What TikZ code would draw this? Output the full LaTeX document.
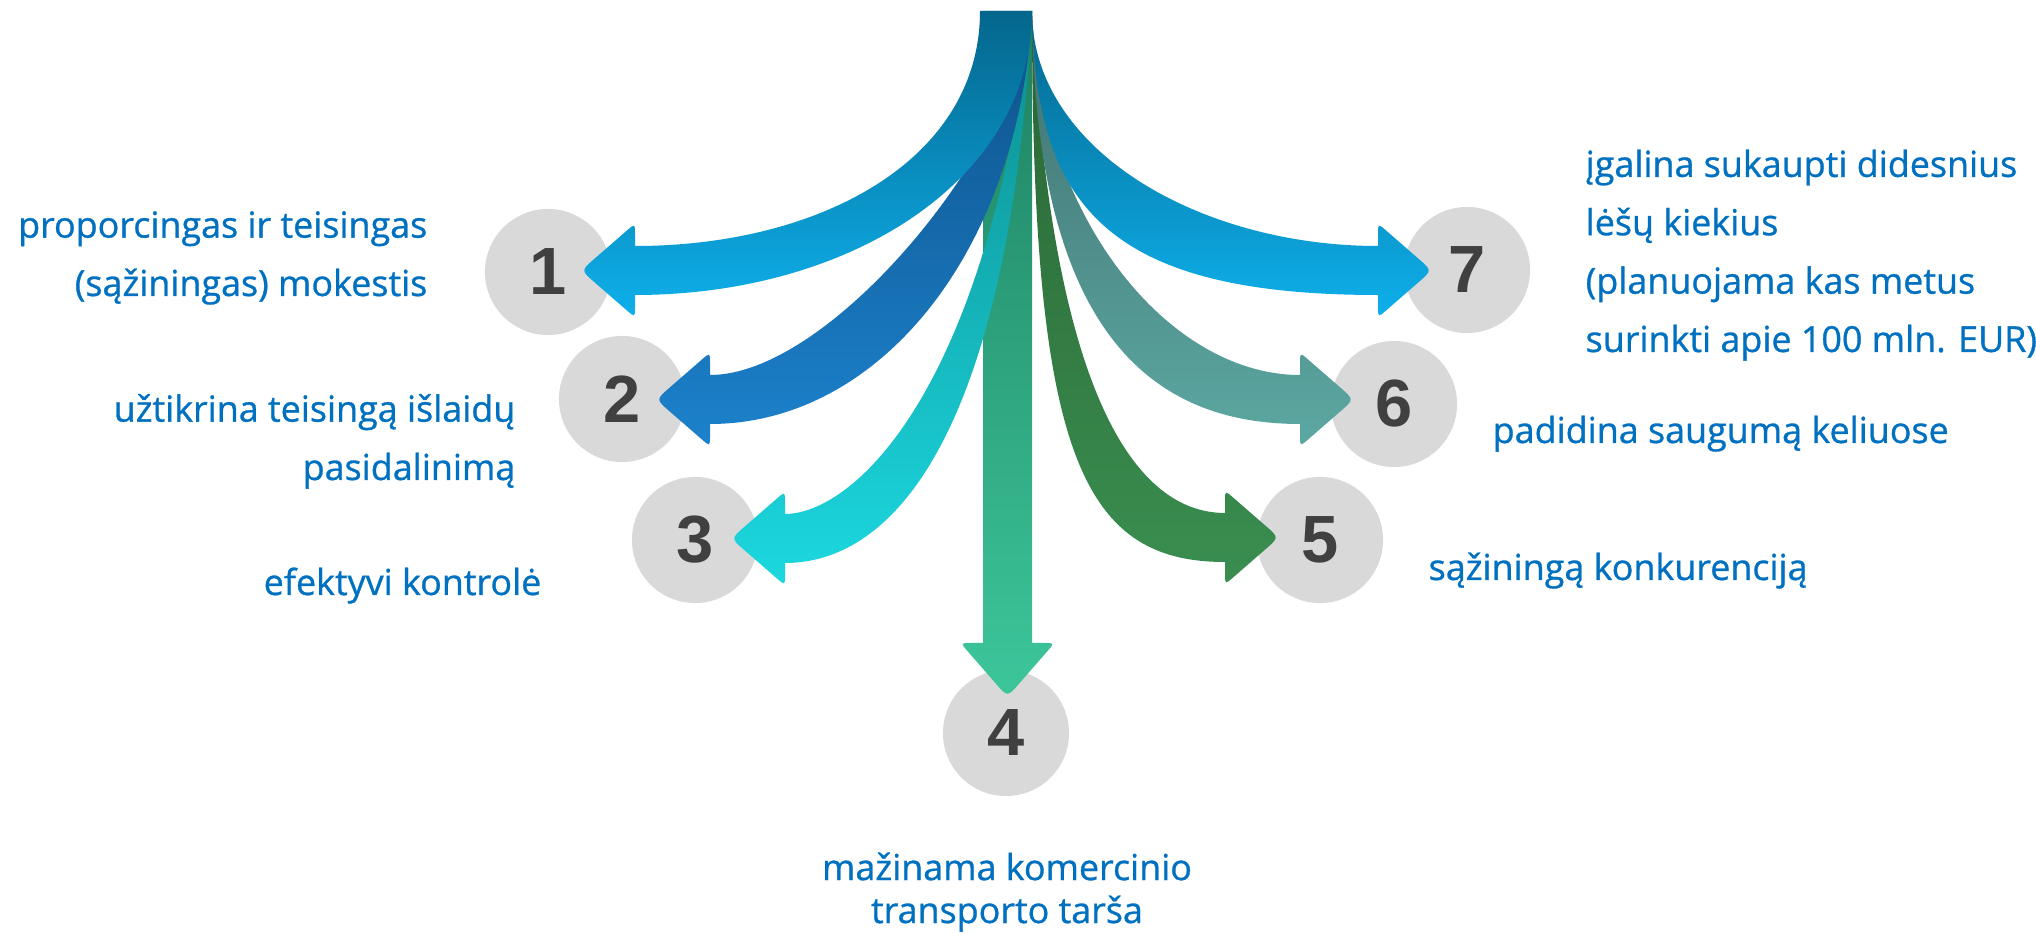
\documentclass[tikz,border=0pt]{standalone}
\usepackage{fontspec}
\setmainfont{Open Sans}
\newfontfamily\lblfont[FakeBold=0.8]{Open Sans}
\newfontfamily\numfont{Liberation Sans}
\usetikzlibrary{calc}
\definecolor{txtblue}{RGB}{0,112,192}
\definecolor{circgray}{RGB}{217,217,217}
\definecolor{numgray}{RGB}{64,64,64}
\definecolor{skytop}{RGB}{4,102,140}
\definecolor{skybot}{RGB}{14,176,236}
\definecolor{navytop}{RGB}{14,80,136}
\definecolor{navybot}{RGB}{28,130,204}
\definecolor{tealtop}{RGB}{12,140,142}
\definecolor{tealbot}{RGB}{28,216,224}
\definecolor{minttop}{RGB}{30,128,96}
\definecolor{mintbot}{RGB}{61,198,155}
\definecolor{greentop}{RGB}{42,100,52}
\definecolor{greenbot}{RGB}{58,142,80}
\definecolor{sagetop}{RGB}{64,112,112}
\definecolor{sagebot}{RGB}{92,168,162}
% rounded corner of an arrow head: previous point, corner, next point
\newcommand{\rnd}[3]{-- ($(#2)!3pt!(#1)$) .. controls (#2) .. ($(#2)!3pt!(#3)$)}
\newcommand{\rtip}[3]{-- ($(#2)!5pt!(#1)$) .. controls (#2) .. ($(#2)!5pt!(#3)$)}

\begin{document}
\begin{tikzpicture}[x=0.01cm,y=-0.01cm,
  num/.style={circle,fill=circgray,minimum size=1.26cm,inner sep=0pt,
    text=numgray,font=\numfont\bfseries\fontsize{19}{19}\selectfont},
  lbl/.style={inner sep=0pt,text=txtblue,font=\lblfont\fontsize{10.2}{16.6}\selectfont}]
  \fill[white] (0,0) rectangle (2036,934);
  \useasboundingbox (0,0) rectangle (2036,934);
  \coordinate (root) at (1032,11);

  % circles
  \node[num] (c1) at (548,272) {1};
  \node[num] (c2) at (622,399) {2};
  \node[num] (c3) at (695,540) {3};
  \node[num] (c4) at (1006,733) {4};
  \node[num] (c5) at (1320,540) {5};
  \node[num] (c6) at (1394,404) {6};
  \node[num] (c7) at (1467,270) {7};

  % arrow 4, straight down
  \shade[top color=minttop,bottom color=mintbot]
    (983,11) -- (983,643)
    \rnd{983,643}{960.5,643}{1007.5,697}
    \rtip{960.5,643}{1007.5,697}{1054.5,643}
    \rnd{1007.5,697}{1054.5,643}{1032,643}
    -- (1032,643) -- (root) -- cycle;
  % arrow 3
  \shade[top color=tealtop,bottom color=tealbot]
    (root) .. controls (985,400) and (850,514) .. (785,514)
    \rnd{785,514}{785,491.5}{731,538.5}
    \rtip{785,491.5}{731,538.5}{785,585.5}
    \rnd{731,538.5}{785,585.5}{785,563}
    -- (785,563) .. controls (900,563) and (1010,420) .. (root) -- cycle;
  % arrow 5
  \shade[top color=greentop,bottom color=greenbot]
    (root) .. controls (1050,380) and (1130,513) .. (1225,513)
    \rnd{1225,513}{1225,490.5}{1279,537.5}
    \rtip{1225,490.5}{1279,537.5}{1225,584.5}
    \rnd{1279,537.5}{1225,584.5}{1225,562}
    -- (1225,562) .. controls (1080,562) and (1032,450) .. (root) -- cycle;
  % arrow 2
  \shade[top color=navytop,bottom color=navybot]
    (root) .. controls (1015,150) and (830,375) .. (710,375)
    \rnd{710,375}{710,352.5}{656,399.5}
    \rtip{710,352.5}{656,399.5}{710,446.5}
    \rnd{656,399.5}{710,446.5}{710,424}
    -- (710,424) .. controls (880,424) and (1020,250) .. (root) -- cycle;
  % arrow 6
  \shade[top color=sagetop,bottom color=sagebot]
    (root) .. controls (1040,220) and (1170,375) .. (1300,375)
    \rnd{1300,375}{1300,352.5}{1354,399.5}
    \rtip{1300,352.5}{1354,399.5}{1300,446.5}
    \rnd{1354,399.5}{1300,446.5}{1300,424}
    -- (1300,424) .. controls (1150,424) and (1035,330) .. (root) -- cycle;
  % arrow 1
  \shade[top color=skytop,bottom color=skybot]
    (980,11) .. controls (980,160) and (820,246) .. (635,246)
    \rnd{635,246}{635,223.5}{581,270.5}
    \rtip{635,223.5}{581,270.5}{635,317.5}
    \rnd{581,270.5}{635,317.5}{635,295}
    -- (635,295) .. controls (850,295) and (1032,180) .. (root) -- cycle;
  % arrow 7
  \shade[top color=skytop,bottom color=skybot]
    (root) .. controls (1032,150) and (1200,246) .. (1378,246)
    \rnd{1378,246}{1378,223.5}{1432,270.5}
    \rtip{1378,223.5}{1432,270.5}{1378,317.5}
    \rnd{1432,270.5}{1378,317.5}{1378,295}
    -- (1378,295) .. controls (1100,295) and (1035,200) .. (root) -- cycle;

  % labels (base = last line)
  \node[lbl,anchor=base east,align=right] (t1) at (428,296)
    {proporcingas ir teisingas\\(sąžiningas) mokestis};
  \node[lbl,anchor=base east,align=right] (t2) at (516,480)
    {užtikrina teisingą išlaidų\\pasidalinimą};
  \node[lbl,anchor=base east] (t3) at (542,595) {efektyvi kontrolė};
  \node[lbl,anchor=base,align=center,font=\lblfont\fontsize{10.2}{12.2}\selectfont] (t4) at (1007,923)
    {mažinama komercinio\\transporto tarša};
  \node[lbl,anchor=base west] (t5) at (1428,580) {sąžiningą konkurenciją};
  \node[lbl,anchor=base west] (t6) at (1492,443) {padidina saugumą keliuose};
  \node[lbl,anchor=base west,align=left] (t7) at (1585,352)
    {įgalina sukaupti didesnius\\lėšų kiekius\\(planuojama kas metus\\surinkti apie 100 mln. EUR)};
\end{tikzpicture}
\end{document}
